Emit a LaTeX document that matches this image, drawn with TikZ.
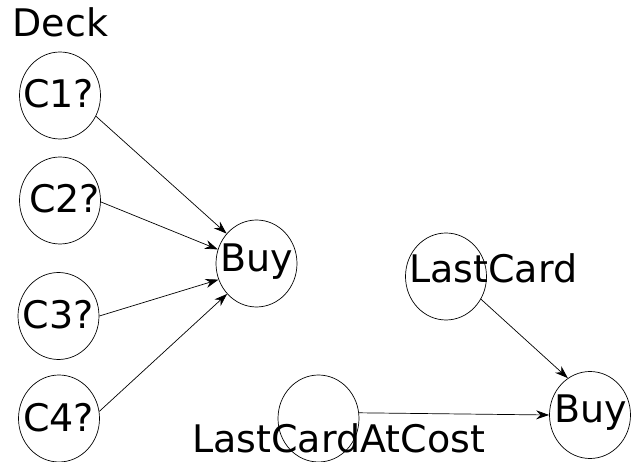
\documentclass[tikz,border=0pt]{standalone}
\usepackage{fontspec}
\setmainfont{DejaVu Sans}
\usetikzlibrary{shapes.geometric,arrows.meta}

\begin{document}
\begin{tikzpicture}
[x=1pt,y=-1pt,
 place/.style={ellipse,draw,line width=0.7pt,minimum width=81pt,minimum height=87pt,inner sep=0pt},
 word/.style={inner sep=0pt,anchor=base,font=\fontsize{38}{46}\selectfont},
 edge/.style={-{Stealth[length=13pt,width=9pt]},line width=0.7pt}]

\useasboundingbox (0,0) rectangle (638,462);

\node (deck) at (60.5,37) [word] {Deck};

\node (c1) at (60,95.5) [place] {};
\node (c2) at (60,200.5) [place] {};
\node (c3) at (58.5,316) [place] {};
\node (c4) at (59,418.5) [place] {};
\node (buya) at (256.5,263.5) [place] {};
\node (last) at (446,276.5) [place] {};
\node (cost) at (318.5,418.5) [place] {};
\node (buyb) at (590,415) [place] {};

\node (c1t) at (58.5,108) [word] {C1?};
\node (c2t) at (64.5,213) [word] {C2?};
\node (c3t) at (58,329) [word] {C3?};
\node (c4t) at (58.5,432) [word] {C4?};
\node (buyat) at (257,272) [word] {Buy};
\node (lastt) at (409,283) [word,anchor=base west] {LastCard};
\node (costt) at (192,453) [word,anchor=base west] {LastCardAtCost};
\node (buybt) at (591,423) [word] {Buy};

\draw [edge] (c1.-30) -- (buya.135);
\draw [edge] (c2.-2) -- (buya.160);
\draw [edge] (c3.0) -- (buya.203);
\draw [edge] (c4.10) -- (buya.226);
\draw [edge] (last.-33) -- (buyb.121);
\draw [edge] (cost.8) -- (buyb.west);
\end{tikzpicture}
\end{document}
